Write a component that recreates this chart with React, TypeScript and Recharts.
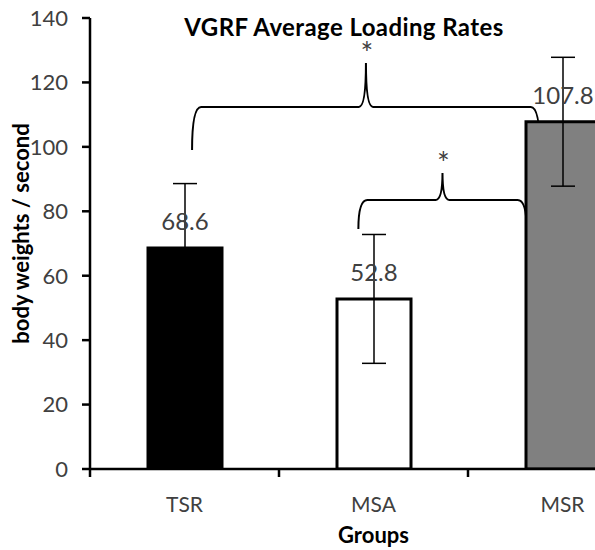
import { Bar, BarChart, Cell, ErrorBar, LabelList, ReferenceArea, XAxis, YAxis } from "recharts";

const groups = ["TSR", "MSA", "MSR"];
const means = [68.6, 52.8, 107.8];
const errors = [20, 20, 20];
const fills = ["#000000", "#ffffff", "#808080"];
const yTicks = [0, 20, 40, 60, 80, 100, 120, 140];
const xTicks = [-0.5, 0.5, 1.5, 2.5];

// significance braces (x in group units, y in body weights / second)
const braceFrom = [0.04, 0.92];
const braceTo = [1.88, 1.81];
const braceLevel = [112.4, 83.5];
const braceEnd = [99, 74.5];
const bracePeak = [126, 91.9];
const braceMark = ["*", "*"];

const CHART_W = 657;
const CHART_H = 550;
const Y_AXIS_W = 90;
const X_AXIS_H = 81;
const BAND = (CHART_W - Y_AXIS_W) / groups.length;
const FONT = "Lato, 'DejaVu Sans', sans-serif";

const data = groups.map((name, i) => ({ pos: i, name, mean: means[i], err: errors[i] }));

function GroupTick({ x, y, payload }: any) {
  const i = payload.value + 0.5;
  if (i >= groups.length) return <g />;
  return (
    <text x={x + BAND / 2} y={y} dy="0.71em" textAnchor="middle" fill="#404040" fontSize={21} fontFamily={FONT}>
      {groups[i]}
    </text>
  );
}

function Brace({ x, y, width, height, levelFrac, mark }: any) {
  const x2 = x + width;
  const mid = x + width / 2;
  const bottom = y + height;
  const yl = y + height * levelFrac;
  const r = 9;
  const rp = 7;
  const d =
    `M${x},${bottom} Q${x},${yl} ${x + r},${yl} L${mid - rp},${yl} Q${mid},${yl} ${mid},${y} ` +
    `Q${mid},${yl} ${mid + rp},${yl} L${x2 - r},${yl} Q${x2},${yl} ${x2},${bottom}`;
  return (
    <g>
      <path d={d} fill="none" stroke="#000" strokeWidth={2} />
      <text x={mid + 1} y={y + 1} textAnchor="middle" fill="#404040" fontSize={30} fontFamily={FONT}>
        {mark}
      </text>
    </g>
  );
}

export default function App() {
  return (
    <div
      style={{
        position: "absolute",
        left: 0,
        top: 0,
        width: 595,
        height: 550,
        overflow: "hidden",
        background: "#fff",
      }}
    >
      <BarChart width={CHART_W} height={CHART_H} data={data} margin={{ top: 18, right: 0, bottom: 0, left: 0 }}>
        <XAxis
          type="number"
          dataKey="pos"
          domain={[-0.5, 2.5]}
          ticks={xTicks}
          interval={0}
          allowDataOverflow
          height={X_AXIS_H}
          axisLine={{ stroke: "#000", strokeWidth: 2.5 }}
          tickLine={{ stroke: "#000", strokeWidth: 2.5 }}
          tickSize={8}
          tickMargin={20}
          tick={<GroupTick />}
          label={{
            content: ({ viewBox }: any) => (
              <text
                x={viewBox.x + viewBox.width / 2}
                y={viewBox.y + 74}
                textAnchor="middle"
                fontSize={22}
                fontWeight="bold"
                fontFamily={FONT}
                fill="#000"
              >
                Groups
              </text>
            ),
          }}
        />
        <YAxis
          domain={[0, 140]}
          ticks={yTicks}
          interval={0}
          allowDataOverflow
          width={Y_AXIS_W}
          axisLine={{ stroke: "#000", strokeWidth: 2.5 }}
          tickLine={{ stroke: "#000", strokeWidth: 2.5 }}
          tickSize={8}
          tickMargin={14}
          tick={{ fill: "#404040", fontSize: 22, fontFamily: FONT }}
          label={{
            content: ({ viewBox }: any) => {
              const cx = viewBox.x + 20;
              const cy = viewBox.y + viewBox.height / 2 - 10;
              return (
                <text
                  x={cx}
                  y={cy}
                  transform={`rotate(-90, ${cx}, ${cy})`}
                  textAnchor="middle"
                  dominantBaseline="central"
                  fontSize={22}
                  fontWeight="bold"
                  fontFamily={FONT}
                  fill="#000"
                >
                  body weights / second
                </text>
              );
            },
          }}
        />
        <Bar dataKey="mean" barSize={74} stroke="#000" strokeWidth={3} isAnimationActive={false}>
          {data.map((d, i) => (
            <Cell key={d.name} fill={fills[i]} />
          ))}
          <ErrorBar dataKey="err" direction="y" width={12} stroke="#000" strokeWidth={1.5} />
          <LabelList dataKey="mean" position="top" offset={18} fill="#404040" fontSize={24} fontFamily={FONT} />
        </Bar>
        {braceFrom.map((from, i) => (
          <ReferenceArea
            key={i}
            x1={from}
            x2={braceTo[i]}
            y1={braceEnd[i]}
            y2={bracePeak[i]}
            ifOverflow="visible"
            shape={(p: any) => (
              <Brace
                {...p}
                levelFrac={(bracePeak[i] - braceLevel[i]) / (bracePeak[i] - braceEnd[i])}
                mark={braceMark[i]}
              />
            )}
          />
        ))}
      </BarChart>
      <svg width={595} height={550} style={{ position: "absolute", left: 0, top: 0, pointerEvents: "none" }}>
        <text
          x={344}
          y={36}
          textAnchor="middle"
          fontSize={24}
          letterSpacing={0.4}
          fontWeight="bold"
          fontFamily={FONT}
          fill="#000"
        >
          VGRF Average Loading Rates
        </text>
      </svg>
    </div>
  );
}
